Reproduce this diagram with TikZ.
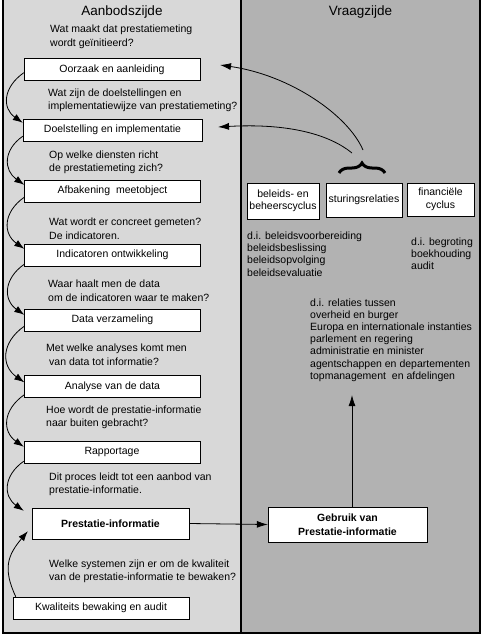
\documentclass[tikz,border=0pt]{standalone}
\usepackage{fontspec}
\setmainfont{Liberation Sans}
\usetikzlibrary{arrows.meta,decorations.pathreplacing}
\definecolor{aanbodgrey}{RGB}{216,216,216}
\definecolor{vraaggrey}{RGB}{178,178,178}

\begin{document}
\begin{tikzpicture}[x=1pt, y=1pt,
    vraag/.style={font=\fontsize{10.5}{13.5}\selectfont, align=left, anchor=west, inner sep=0pt},
    uitleg/.style={font=\fontsize{10.5}{12.2}\selectfont, align=left, anchor=west, inner sep=0pt},
    stap/.style={draw, fill=white, minimum width=176pt, minimum height=22pt, inner sep=1pt, font=\fontsize{10.5}{13}\selectfont},
    klein/.style={draw, fill=white, inner sep=1pt, align=center, font=\fontsize{10.5}{12.5}\selectfont},
    titel/.style={font=\fontsize{13.5}{15}\selectfont},
    lus/.style={-{Latex[length=10pt,width=7pt]}, line width=0.8pt},
    pijl/.style={-{Latex[length=11pt,width=7pt]}, line width=0.8pt}]
  \useasboundingbox (0,0) rectangle (485,-641);
  % twee zijden
  \fill [aanbodgrey] (3,0) rectangle (241,-633);
  \fill [vraaggrey] (241,0) rectangle (480,-633);
  \draw [line width=1.2pt] (3,0) -- (3,-633) -- (480,-633) -- (480,0);
  \draw [line width=1.2pt] (241,0) -- (241,-633);
  \node [titel] (aanbod) at (122,-12) {Aanbodszijde};
  \node [titel] (vraagzijde) at (360.5,-12) {Vraagzijde};

  % aanbodszijde
  \node [vraag] (v1) at (50,-37) {Wat maakt dat prestatiemeting\\wordt geïnitieerd?};
  \node [stap] (oorzaak) at (112,-69.5) {Oorzaak en aanleiding};
  \node [vraag] (v2) at (48,-100.5) {Wat zijn de doelstellingen en\\implementatiewijze van prestatiemeting?};
  \node [stap, minimum width=179pt] (doel) at (112.5,-130) {Doelstelling en implementatie};
  \node [vraag] (v3) at (49,-162.5) {Op welke diensten richt\\de prestatiemeting zich?};
  \node [stap] (afbakening) at (112.5,-191) {Afbakening\hspace{3pt} meetobject};
  \node [vraag] (v4) at (49,-228.5) {Wat wordt er concreet gemeten?\\De indicatoren.};
  \node [stap] (indicatoren) at (112.5,-255) {Indicatoren ontwikkeling};
  \node [vraag] (v5) at (48,-290.5) {Waar haalt men de data\\om de indicatoren waar te maken?};
  \node [stap] (data) at (112.5,-320) {Data verzameling};
  \node [vraag] (v6) at (46,-354.5) {Met welke analyses komt men\\\hspace{3pt}van data tot informatie?};
  \node [stap] (analyse) at (112.5,-386.5) {Analyse van de data};
  \node [vraag] (v7) at (46,-417.5) {Hoe wordt de prestatie-informatie\\naar buiten gebracht?};
  \node [stap] (rapportage) at (112,-452) {Rapportage};
  \node [vraag] (v8) at (49,-484.5) {Dit proces leidt tot een aanbod van\\prestatie-informatie.};
  \node [stap, minimum width=157pt, minimum height=31pt, font=\fontsize{10.5}{13}\selectfont\bfseries] (prestatie) at (110.5,-523.5) {Prestatie-informatie};
  \node [vraag] (v9) at (49,-571.5) {Welke systemen zijn er om de kwaliteit\\van de prestatie-informatie te bewaken?};
  \node [stap] (kwaliteit) at (101,-608) {Kwaliteits bewaking en audit};

  \draw [lus] ([yshift=8]oorzaak.south west) to [out=215, in=145, looseness=1.3] ([yshift=-4]doel.north west);
  \draw [lus] ([yshift=5]doel.south west) to [out=215, in=145, looseness=1.3] ([yshift=-5]afbakening.north west);
  \draw [lus] ([yshift=5]afbakening.south west) to [out=215, in=145, looseness=1.3] ([yshift=-5]indicatoren.north west);
  \draw [lus] ([yshift=2]indicatoren.south west) to [out=215, in=145, looseness=1.3] ([yshift=-6]data.north west);
  \draw [lus] ([yshift=5]data.south west) to [out=215, in=145, looseness=1.3] ([yshift=-7]analyse.north west);
  \draw [lus] ([yshift=3]analyse.south west) to [out=215, in=145, looseness=1.3] ([yshift=-6]rapportage.north west);
  \draw [lus] ([yshift=2]rapportage.south west) to [out=215, in=145, looseness=1.3] ([xshift=-8,yshift=-3]prestatie.north west);
  \draw [lus] ([xshift=3]kwaliteit.north west) to [out=115, in=230, looseness=1.2] ([xshift=-4,yshift=8]prestatie.south west);

  % vraagzijde
  \node [klein, minimum width=72pt, minimum height=36pt] (beleid) at (283,-201) {beleids- en\\beheerscyclus};
  \node [klein, minimum width=76pt, minimum height=34pt] (sturing) at (364,-200) {sturingsrelaties};
  \node [klein, minimum width=67pt, minimum height=33pt] (financieel) at (440.5,-199.5) {financiële\\cyclus};
  \draw [decorate, decoration={brace, amplitude=10pt}, line width=3pt] (339,-173) -- (385,-173);
  \coordinate (accolade1) at (363,-150);
  \coordinate (accolade2) at (352,-153);
  \coordinate (naaroorzaak) at (220,-65);
  \coordinate (naardoel) at (218,-127);
  \draw [pijl] (accolade1) .. controls (348,-115) and (290,-75) .. (naaroorzaak);
  \draw [pijl] (accolade2) .. controls (330,-135) and (290,-123) .. (naardoel);

  \node [uitleg] (cyclus) at (247,-254) {d.i. beleidsvoorbereiding\\beleidsbeslissing\\beleidsopvolging\\beleidsevaluatie};
  \node [uitleg] (begroting) at (411,-254) {d.i. begroting\\boekhouding\\audit};
  \node [uitleg] (relaties) at (310,-340) {d.i. relaties tussen\\overheid en burger\\Europa en internationale instanties\\parlement en regering\\administratie en minister\\agentschappen en departementen\\topmanagement\hspace{3pt} en afdelingen};

  \node [klein, minimum width=159pt, minimum height=35pt, font=\fontsize{10.5}{14}\selectfont\bfseries] (gebruik) at (347.5,-524.5) {Gebruik van\\Prestatie-informatie};
  \coordinate (relatiespijl) at (352,-395);
  \draw [pijl] (prestatie.east) -- (gebruik.west);
  \draw [pijl] ([xshift=4.5]gebruik.north) -- (relatiespijl);
\end{tikzpicture}
\end{document}
